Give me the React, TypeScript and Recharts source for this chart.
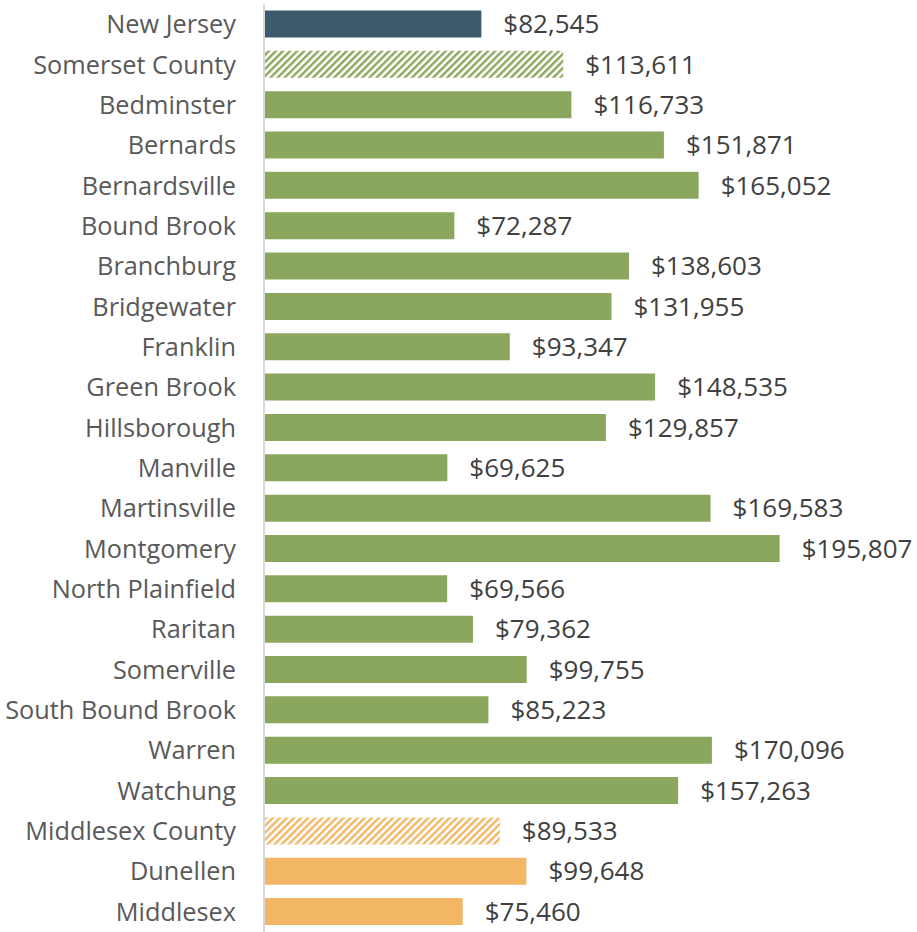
import React from 'react';
import { BarChart, Bar, XAxis, YAxis, Cell, LabelList } from 'recharts';

const places = [
  'New Jersey', 'Somerset County', 'Bedminster', 'Bernards', 'Bernardsville', 'Bound Brook',
  'Branchburg', 'Bridgewater', 'Franklin', 'Green Brook', 'Hillsborough', 'Manville',
  'Martinsville', 'Montgomery', 'North Plainfield', 'Raritan', 'Somerville', 'South Bound Brook',
  'Warren', 'Watchung', 'Middlesex County', 'Dunellen', 'Middlesex',
];
const incomes = [
  82545, 113611, 116733, 151871, 165052, 72287, 138603, 131955, 93347, 148535, 129857, 69625,
  169583, 195807, 69566, 79362, 99755, 85223, 170096, 157263, 89533, 99648, 75460,
];
// which fill each row uses
const groups = [
  'state', 'somersetCounty', 'somerset', 'somerset', 'somerset', 'somerset', 'somerset', 'somerset',
  'somerset', 'somerset', 'somerset', 'somerset', 'somerset', 'somerset', 'somerset', 'somerset',
  'somerset', 'somerset', 'somerset', 'somerset', 'middlesexCounty', 'middlesex', 'middlesex',
];

const fills: Record<string, string> = {
  state: '#3e5a6d',
  somersetCounty: 'url(#hatchGreen)',
  somerset: '#8ba75e',
  middlesexCounty: 'url(#hatchOrange)',
  middlesex: '#f2b664',
};

const data = places.map((name, i) => ({ name, value: incomes[i], group: groups[i] }));

const FONT = '"Open Sans", sans-serif';

const money = (v: number) => '$' + v.toLocaleString('en-US');

const PlaceTick = (props: any) => {
  const { y, payload } = props;
  return (
    <text x={236} y={y} dy={9} textAnchor="end" fill="#595959" fontSize={25.3} fontFamily={FONT}>
      {payload.value}
    </text>
  );
};

export default function App() {
  return (
    <div style={{ position: 'absolute', left: 0, top: 0, background: '#fff' }}>
      <BarChart
        width={917}
        height={932}
        data={data}
        layout="vertical"
        margin={{ top: 4, right: 21, bottom: 0, left: 0 }}
        barCategoryGap="16%"
      >
        <defs>
          <pattern id="hatchGreen" width="5" height="5" patternUnits="userSpaceOnUse" patternTransform="rotate(45)">
            <rect width="5" height="5" fill="#ffffff" />
            <rect width="2.4" height="5" fill="#8ba75e" />
          </pattern>
          <pattern id="hatchOrange" width="5" height="5" patternUnits="userSpaceOnUse" patternTransform="rotate(45)">
            <rect width="5" height="5" fill="#ffffff" />
            <rect width="2.4" height="5" fill="#f2b664" />
          </pattern>
        </defs>
        <XAxis type="number" domain={[0, 240000]} hide />
        <YAxis
          type="category"
          dataKey="name"
          width={264}
          interval={0}
          tickLine={false}
          axisLine={{ stroke: '#d9d9d9', strokeWidth: 2 }}
          tick={<PlaceTick />}
        />
        <Bar dataKey="value" isAnimationActive={false}>
          {data.map((d) => (
            <Cell key={d.name} fill={fills[d.group]} />
          ))}
          <LabelList
            dataKey="value"
            position="right"
            offset={22}
            formatter={(v: any) => money(Number(v))}
            fill="#404040"
            fontSize={26}
            fontFamily={FONT}
          />
        </Bar>
      </BarChart>
    </div>
  );
}
